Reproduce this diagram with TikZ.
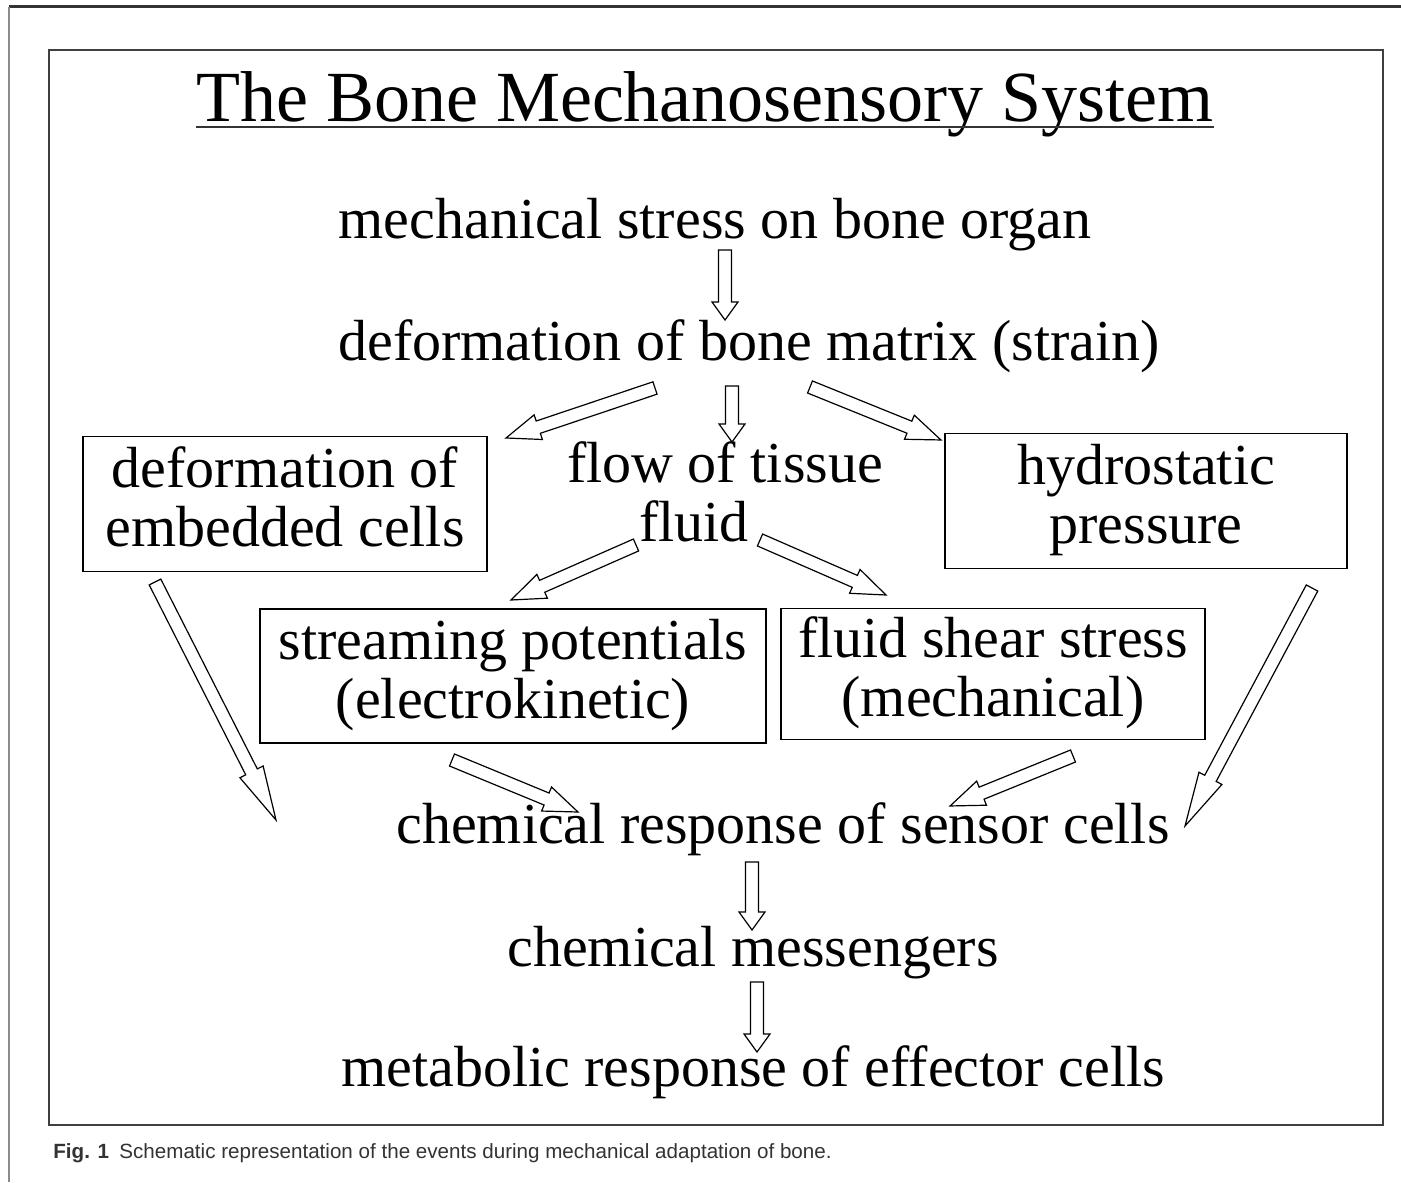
\documentclass[tikz,border=0pt]{standalone}
\usepackage{fontspec}
\setmainfont{Liberation Serif}
\newfontfamily\capfont{Liberation Sans}
\usetikzlibrary{calc}

\newcommand{\bodyfont}{\fontsize{29}{29.5}\selectfont}
\tikzset{
  box/.style={draw, line width=0.9pt, align=center, inner sep=0pt, text depth=7pt, font=\bodyfont},
  txt/.style={anchor=base, inner sep=0pt, font=\bodyfont},
  blockarrow/.style={draw, line width=0.6pt, line join=miter},
}
% hollow block arrow: [head length]{from}{to}
\newcommand{\hollowarrow}[3][9pt]{%
  \draw[blockarrow] let \p1=($(#3)-(#2)$), \n1={atan2(\y1,\x1)}, \n2={veclen(\x1,\y1)} in
    [shift={(#2)}, rotate=\n1]
    (0pt,-3.25pt) -- (\n2-#1,-3.25pt) -- (\n2-#1,-6.5pt) -- (\n2,0pt)
    -- (\n2-#1,6.5pt) -- (\n2-#1,3.25pt) -- (0pt,3.25pt) -- cycle;}

\begin{document}
\begin{tikzpicture}[x=0.5pt, y=-0.5pt]
  \useasboundingbox (0,0) rectangle (1401,1182);
  \fill[white] (0,0) rectangle (1401,1182);
  % page edges and frame
  \draw[line width=1.5pt, black!80] (9,7) -- (1401,7);
  \draw[line width=0.6pt, black!45] (9,7) -- (9,1182);
  \draw[line width=1.4pt, black!75] (49,50) rectangle (1383,1125);

  % title
  \node[anchor=base, inner sep=0pt, font=\fontsize{36}{36}\selectfont] (title) at (705,122) {The Bone Mechanosensory System};
  \draw[line width=1pt, black!80] ($(title.base west)+(0,5)$) -- ($(title.base east)+(0,5)$);

  % the chain of events
  \node[txt] (stress) at (715,239) {mechanical stress on bone organ};
  \node[txt] (strain) at (749,360) {deformation of bone matrix (strain)};
  \node[box, minimum width=202pt, minimum height=67.5pt] (cells) at (285,504) {deformation of\\embedded cells};
  \node[align=center, inner sep=0pt, font=\bodyfont] (fluid) at (725,492) {flow of tissue\\fluid\hspace*{31pt}};
  \node[box, minimum width=201pt, minimum height=67.5pt] (hydro) at (1146,501) {hydrostatic\\pressure};
  \node[box, minimum width=253pt, minimum height=67pt] (stream) at (513,676) {streaming potentials\\(electrokinetic)};
  \node[box, minimum width=212pt, minimum height=65.5pt] (shear) at (993,674) {fluid shear stress\\(mechanical)};
  \node[txt] (response) at (783,843) {chemical response of sensor cells};
  \node[txt] (messengers) at (753,966) {chemical messengers};
  \node[txt] (metabolic) at (753,1086) {metabolic response of effector cells};

  % caption
  \node[anchor=base west, inner sep=0pt, font=\capfont\fontsize{10.3}{10.3}\selectfont, text=black!80] (caption) at (53,1158)
    {\textbf{Fig. 1}\enspace Schematic representation of the events during mechanical adaptation of bone.};

  % arrow ends
  \coordinate (stress-s) at (725,250);
  \coordinate (strain-n) at (725,320);
  \coordinate (strain-sw) at (655,388);
  \coordinate (cells-ne) at (506,438);
  \coordinate (strain-s) at (732,386);
  \coordinate (fluid-n) at (732,442);
  \coordinate (strain-se) at (810,387);
  \coordinate (hydro-nw) at (941,440);
  \coordinate (fluid-sw) at (636,545);
  \coordinate (stream-n) at (511,600);
  \coordinate (fluid-se) at (760,540);
  \coordinate (shear-n) at (886,595);
  \coordinate (cells-s) at (155,582);
  \coordinate (response-w) at (276,820);
  \coordinate (hydro-s) at (1312,588);
  \coordinate (response-e) at (1185,826);
  \coordinate (stream-s) at (452,760);
  \coordinate (response-nw) at (578,812);
  \coordinate (shear-s) at (1073,756);
  \coordinate (response-ne) at (950,806);
  \coordinate (response-s) at (752,862);
  \coordinate (messengers-n) at (752,930);
  \coordinate (messengers-s) at (757,982);
  \coordinate (metabolic-n) at (757,1052);

  % hollow arrows
  \hollowarrow{stress-s}{strain-n}
  \hollowarrow[17pt]{strain-sw}{cells-ne}
  \hollowarrow{strain-s}{fluid-n}
  \hollowarrow[17pt]{strain-se}{hydro-nw}
  \hollowarrow[17pt]{fluid-sw}{stream-n}
  \hollowarrow[17pt]{fluid-se}{shear-n}
  \hollowarrow[27pt]{cells-s}{response-w}
  \hollowarrow[27pt]{hydro-s}{response-e}
  \hollowarrow[17pt]{stream-s}{response-nw}
  \hollowarrow[17pt]{shear-s}{response-ne}
  \hollowarrow{response-s}{messengers-n}
  \hollowarrow{messengers-s}{metabolic-n}
\end{tikzpicture}
\end{document}
